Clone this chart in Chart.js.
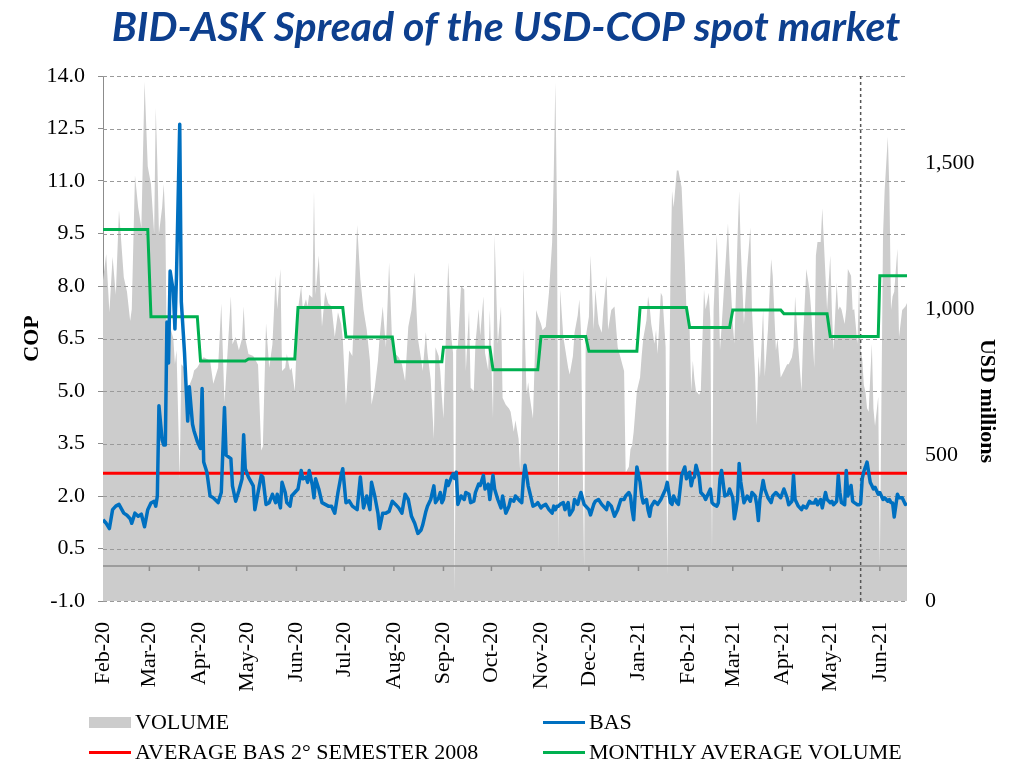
<!DOCTYPE html>
<html>
<head>
<meta charset="utf-8">
<script src="https://cdn.jsdelivr.net/npm/chart.js@4.4.1/dist/chart.umd.min.js"></script>
<style>
  html, body { margin: 0; padding: 0; background: #ffffff; width: 1012px; height: 763px; overflow: hidden; }
  #wrap { position: relative; width: 1012px; height: 763px; }
  #chart { position: absolute; left: 0; top: 0; }
  .leg { position: absolute; display: flex; align-items: center; height: 24px; font-family: 'Liberation Serif', 'Times New Roman', serif; font-size: 22px; color: #000; white-space: nowrap; }
  .sw { width: 42px; margin-right: 4px; }
  #y2title { position: absolute; left: 988px; top: 401px; transform: translate(-50%, -50%); writing-mode: vertical-rl; font-family: 'Liberation Serif', 'Times New Roman', serif; font-weight: bold; font-size: 22px; color: #000; white-space: nowrap; }
</style>
</head>
<body>
<div id="wrap">
  <canvas id="chart" width="1012" height="763"></canvas>
  <div id="y2title">USD millions</div>
  <div id="legend"></div>
</div>
<script>
// ---- Data (x = calendar days since 1 Feb 2020) ----
const days = [0,2,4,6,8,10,13,15,17,18,20,22,24,26,28,30,32,33,34,35,37,38,39,40,41,42,44,45,46,48,49,51,53,54,56,57,59,61,62,63,65,67,
69,72,74,76,77,80,81,83,85,87,88,89,91,94,95,97,99,100,102,104,106,108,109,111,112,114,115,117,118,120,122,124,125,127,128,129,131,132,
133,135,137,139,141,143,145,147,149,150,152,154,156,159,161,163,165,167,168,170,172,173,175,177,179,181,183,185,187,189,191,193,
195,197,199,200,202,203,205,207,208,210,211,212,213,215,216,218,219,220,221,222,224,226,227,229,230,232,233,235,236,238,239,241,242,244,245,247,249,250,252,254,255,
257,258,260,261,262,263,264,265,266,267,269,271,272,274,275,277,279,281,282,283,284,285,286,288,289,291,292,294,295,297,298,299,301,302,304,305,307,308,310,312,313,315,316,318,
320,322,324,326,327,329,330,331,332,333,334,336,337,338,340,341,342,343,345,346,347,349,350,352,353,355,356,357,359,360,362,364,365,367,368,369,370,371,373,374,376,377,379,380,
381,382,384,385,386,387,389,391,392,394,395,396,397,398,399,401,403,405,406,408,409,410,411,413,414,416,418,419,421,422,424,426,428,429,431,432,433,435,437,438,440,442,443,
445,446,447,449,450,452,453,455,456,457,459,460,461,462,464,465,466,468,469,470,472,473,474,475,476,477,478,479,480,481,482,483,485,486,488,489,491,492,493,494,495,497,498,500,502,503];

const volume = [1100,1190,990,1180,1050,1340,1110,1060,960,1000,1460,1350,1280,1780,1490,1430,1260,1690,1500,1260,1350,1430,1300,800,900,940,900,812,860,417,812,800,719,740,766,790,801,820,830,836,830,824,
745,800,1020,680,770,1045,880,905,860,900,1010,900,847,840,830,810,516,530,952,800,880,1115,1000,1138,789,800,847,790,800,719,1000,1080,1000,1035,1010,1050,1040,1406,
1050,1185,940,1060,1020,1010,905,990,950,900,673,859,840,1289,1103,998,930,824,673,731,824,900,1010,870,1161,870,847,836,812,754,940,998,
1126,900,830,789,922,850,760,556,870,840,789,700,626,1000,1161,900,850,30,860,870,1080,1068,789,998,731,720,882,1000,910,1045,850,790,998,626,1254,882,1010,696,673,660,649,
580,620,556,440,700,1138,900,708,750,700,626,998,980,950,928,940,1057,1231,1463,1778,1347,161,1068,905,870,800,777,840,920,980,1034,930,114,905,975,1185,930,1068,950,920,998,1115,930,998,
1010,870,830,789,440,460,520,533,580,650,720,766,840,900,963,1045,1010,950,882,930,847,1057,1045,870,91,1115,1406,1350,1476,1476,1418,1161,1000,930,719,824,760,720,707,720,1068,1000,1057,960,
161,1000,1254,1115,859,940,1115,1295,1160,950,882,1057,1250,1406,1210,950,1141,1281,998,766,603,840,766,1000,770,930,1173,1115,859,900,766,789,812,812,836,870,1045,870,719,900,1138,1068,1000,
800,1185,1231,1231,1347,1115,998,1185,998,860,1092,998,1010,1000,950,1000,1138,1115,998,1000,882,1092,859,830,740,719,661,649,766,882,660,600,700,120,1254,1406,1592,1406,998,1045,1060,1208,905,998,1010,1022];

const bas = [1.32,1.22,1.07,1.61,1.71,1.76,1.51,1.45,1.35,1.22,1.51,1.42,1.48,1.12,1.61,1.80,1.85,1.71,2.0,4.58,3.6,3.46,3.46,6.97,5.8,8.43,7.84,6.77,8.33,12.62,7.55,6.09,4.14,5.12,4.05,3.85,3.56,3.36,5.07,2.97,2.68,2.0,
1.95,1.81,2.1,4.53,3.17,3.07,2.29,1.85,2.15,2.49,3.75,2.78,2.54,2.29,1.61,2.1,2.59,2.54,1.76,1.81,2.05,1.81,2.05,1.66,2.39,2.1,1.81,1.71,2.0,2.1,2.2,2.73,2.49,2.54,2.39,2.73,2.3,1.95,
2.49,2.2,1.81,1.76,1.71,1.71,1.51,2.1,2.6,2.78,1.81,1.86,1.71,1.61,2.54,1.66,2.0,1.61,2.39,2.0,1.51,1.07,1.51,1.51,1.56,1.85,1.76,1.66,1.51,2.05,1.90,1.42,
1.22,0.93,1.03,1.17,1.56,1.71,1.90,2.29,1.81,1.95,2.1,1.81,1.9,2.44,2.3,2.54,2.63,2.5,2.68,1.76,2.0,1.90,2.1,2.05,1.81,1.85,2.1,2.34,2.3,2.59,2.2,2.34,1.90,2.59,2.2,1.90,1.66,2.0,1.51,1.71,1.90,
1.85,2.0,1.9,1.85,1.81,2.49,2.88,2.6,2.29,2.1,1.71,1.76,1.81,1.66,1.71,1.76,1.61,1.51,1.71,1.61,1.71,1.71,1.76,1.81,1.61,1.81,1.46,1.61,1.90,1.76,1.95,2.1,1.76,1.71,1.61,1.46,1.76,1.85,1.90,1.76,1.71,1.61,1.81,1.71,
1.42,1.61,1.90,1.90,2.0,2.1,2.0,1.6,1.32,2.1,2.83,2.4,2.0,1.8,1.90,1.6,1.42,1.7,1.85,1.81,1.76,1.9,2.0,2.2,2.39,1.81,1.76,2.0,1.81,1.76,2.59,2.83,2.49,2.68,2.29,2.5,2.54,2.88,2.54,2.1,2.0,1.90,2.1,2.2,
1.81,1.76,1.71,1.81,2.49,2.73,2.0,2.05,2.2,1.95,1.35,1.6,1.9,2.93,2.4,1.81,2.0,1.85,2.1,2.0,1.75,1.3,1.9,2.44,2.2,1.95,1.81,2.0,2.1,2.05,1.95,2.2,1.95,1.75,1.85,2.59,1.9,1.71,1.61,1.71,1.66,1.85,1.8,
1.8,1.9,1.75,1.9,1.66,2.1,1.9,1.81,1.85,1.75,1.85,2.59,2.1,1.81,1.75,2.73,2.0,2.3,1.85,1.81,1.75,1.75,1.78,2.5,2.7,2.83,2.97,2.68,2.39,2.3,2.2,2.25,2.05,2.1,1.90,1.95,1.85,1.9,1.81,1.8,1.4,2.05,1.95,1.95,1.76,1.8];

// Month tick labels and their starting day
const monthLabels = ['Feb-20','Mar-20','Apr-20','May-20','Jun-20','Jul-20','Aug-20','Sep-20','Oct-20','Nov-20','Dec-20','Jan-21','Feb-21','Mar-21','Apr-21','May-21','Jun-21'];
const monthStartDays = [0,29,60,90,121,151,182,213,243,274,304,335,366,394,425,455,486];
// Monthly average volume (USD millions), one value per month above
const monthlyAvgVolume = [1274,975,823,830,1006,905,820,870,793,907,856,1006,938,998,985,907,1115];
// Axis ticks
const copTicks = [-1.0, 0.5, 2.0, 3.5, 5.0, 6.5, 8.0, 9.5, 11.0, 12.5, 14.0];
const volumeTicks = [0, 500, 1000, 1500];
// Average BAS, 2nd semester 2008 (COP)
const avgBas = 2.65;
// Dashed vertical marker (day)
const markerDay = 474;
const xMin = 0, xMax = 503;

// ---- build series ----
function monthIndex(d) {
  let m = 0;
  for (let i = 0; i < monthStartDays.length; i++) if (d >= monthStartDays[i]) m = i;
  return m;
}
const volumePts = days.map((d, i) => ({ x: d, y: volume[i] }));
const basPts = days.map((d, i) => ({ x: d, y: bas[i] }));
const avgPts = [{ x: xMin, y: avgBas }, { x: xMax, y: avgBas }];
const monthlyPts = days.map(d => ({ x: d, y: monthlyAvgVolume[monthIndex(d)] }));

const SERIF = "'Liberation Serif', 'Times New Roman', serif";

const overlay = {
  id: 'overlay',
  afterDatasetDraw(chart, args) {
    if (args.index !== 0) return;
    const { ctx, chartArea: { left, right, top, bottom }, scales: { x, y } } = chart;
    ctx.save();
    // horizontal dashed gridlines
    ctx.strokeStyle = '#9a9a9a';
    ctx.lineWidth = 1;
    ctx.setLineDash([4, 3]);
    y.ticks.forEach(t => {
      const py = Math.round(y.getPixelForValue(t.value)) + 0.5;
      ctx.beginPath(); ctx.moveTo(left, py); ctx.lineTo(right, py); ctx.stroke();
    });
    // vertical marker
    ctx.strokeStyle = '#555555';
    ctx.lineWidth = 1.5;
    ctx.setLineDash([3, 3]);
    const mx = x.getPixelForValue(markerDay);
    ctx.beginPath(); ctx.moveTo(mx, top); ctx.lineTo(mx, bottom); ctx.stroke();
    // zero line and month tick marks
    ctx.setLineDash([]);
    ctx.strokeStyle = '#8c8c8c';
    ctx.lineWidth = 1.5;
    const zy = y.getPixelForValue(0);
    ctx.beginPath(); ctx.moveTo(left, zy); ctx.lineTo(right, zy); ctx.stroke();
    x.ticks.forEach(t => {
      const px = x.getPixelForValue(t.value);
      if (px <= left + 1) return;
      ctx.beginPath(); ctx.moveTo(px, zy); ctx.lineTo(px, zy + 5); ctx.stroke();
    });
    ctx.restore();
  }
};

const chart = new Chart(document.getElementById('chart'), {
  type: 'line',
  data: {
    datasets: [
      { label: 'VOLUME', data: volumePts, yAxisID: 'y2', fill: 'origin', backgroundColor: '#cccccc', borderWidth: 0, borderColor: 'rgba(0,0,0,0)', pointRadius: 0, order: 3 },
      { label: 'BAS', data: basPts, yAxisID: 'y', borderColor: '#0070c0', borderWidth: 3.5, pointRadius: 0, fill: false, borderJoinStyle: 'round', order: 0 },
      { label: 'AVERAGE BAS 2° SEMESTER 2008', data: avgPts, yAxisID: 'y', borderColor: '#ff0000', borderWidth: 3, pointRadius: 0, fill: false, order: 2 },
      { label: 'MONTHLY AVERAGE VOLUME', data: monthlyPts, yAxisID: 'y2', borderColor: '#00b050', borderWidth: 3, pointRadius: 0, fill: false, order: 1 }
    ]
  },
  options: {
    responsive: false,
    animation: false,
    events: [],
    layout: { padding: 0 },
    elements: { line: { tension: 0 } },
    plugins: {
      legend: { display: false },
      tooltip: { enabled: false },
      title: {
        display: true,
        text: 'BID-ASK Spread of the USD-COP spot market',
        color: '#0d3f8e',
        font: { family: "Lato, 'Open Sans', sans-serif", size: 41, weight: 'bold', style: 'italic', lineHeight: 1.2 },
        padding: { top: 2.8, bottom: 24 }
      }
    },
    scales: {
      x: {
        type: 'linear',
        min: xMin,
        max: xMax,
        afterBuildTicks: (scale) => {
          scale.ticks = monthStartDays.filter(d => d >= xMin && d <= xMax).map(d => ({ value: d }));
        },
        afterFit: (scale) => { scale.height = 162; },
        grid: { display: false },
        border: { display: false },
        ticks: {
          autoSkip: false,
          maxRotation: 90,
          minRotation: 90,
          padding: 13,
          color: '#000',
          font: { family: SERIF, size: 22 },
          callback: (v) => { const i = monthStartDays.indexOf(v); return i >= 0 ? monthLabels[i] : ''; }
        }
      },
      y: {
        position: 'left',
        min: -1,
        max: 14,
        afterBuildTicks: (scale) => { scale.ticks = copTicks.map(v => ({ value: v })); },
        afterFit: (scale) => { scale.width = 103; },
        grid: { drawOnChartArea: false, drawTicks: true, tickLength: 5, tickColor: '#8c8c8c' },
        border: { display: true, color: '#8c8c8c', width: 1 },
        ticks: {
          padding: 13,
          color: '#000',
          font: { family: SERIF, size: 22 },
          callback: (v) => Number(v).toFixed(1)
        },
        title: { display: true, text: 'COP', color: '#000', font: { family: SERIF, size: 22, weight: 'bold' }, padding: { top: 19, bottom: 0 } }
      },
      y2: {
        position: 'right',
        min: 0,
        max: 1800,
        afterBuildTicks: (scale) => { scale.ticks = volumeTicks.map(v => ({ value: v })); },
        afterFit: (scale) => { scale.width = 105; },
        grid: { display: false, drawTicks: false },
        border: { display: false },
        ticks: {
          padding: 18,
          color: '#000',
          font: { family: SERIF, size: 22 },
          callback: (v) => Number(v).toLocaleString('en-US')
        }
      }
    }
  },
  plugins: [overlay]
});

// ---- HTML legend built from the chart's datasets ----
const slots = [
  { left: 89, top: 710 }, { left: 543, top: 710 },
  { left: 89, top: 740 }, { left: 543, top: 740 }
];
const legendEl = document.getElementById('legend');
chart.data.datasets.forEach((ds, i) => {
  const item = document.createElement('div');
  item.className = 'leg';
  item.style.left = slots[i].left + 'px';
  item.style.top = slots[i].top + 'px';
  const sw = document.createElement('span');
  sw.className = 'sw';
  if (ds.fill) {
    sw.style.height = '11px';
    sw.style.background = ds.backgroundColor;
  } else {
    sw.style.height = '3px';
    sw.style.background = ds.borderColor;
  }
  const tx = document.createElement('span');
  tx.textContent = ds.label;
  item.appendChild(sw);
  item.appendChild(tx);
  legendEl.appendChild(item);
});
</script>
</body>
</html>
